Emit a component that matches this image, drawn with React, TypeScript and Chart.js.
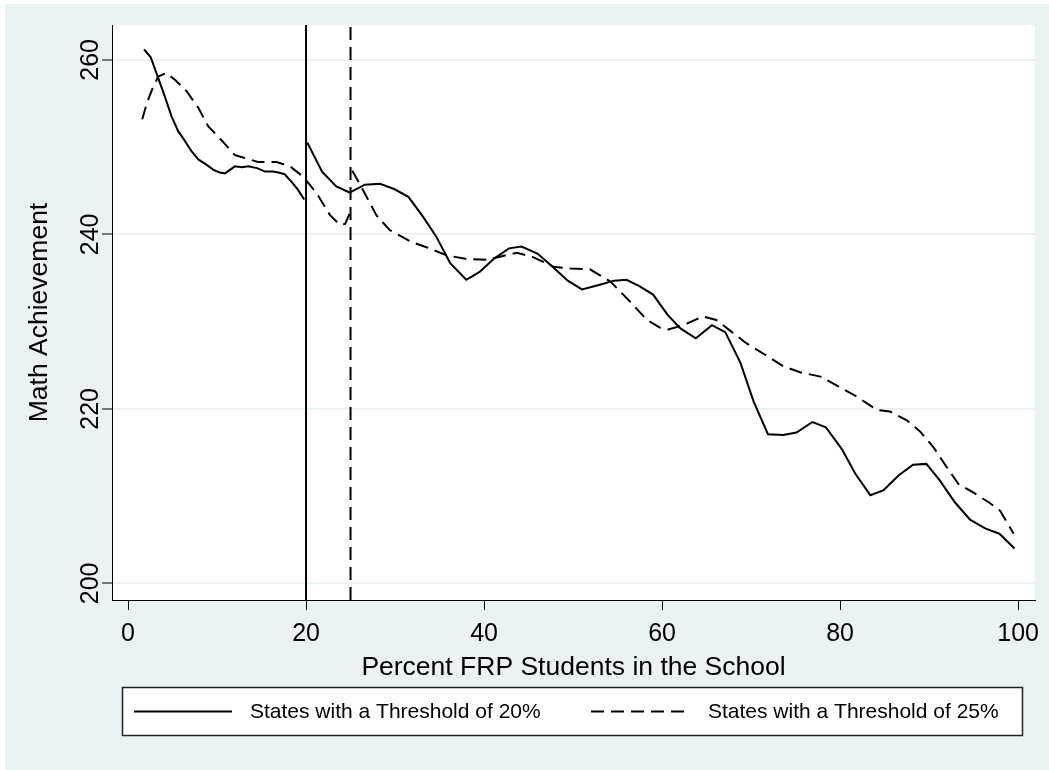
import React, { useEffect, useRef } from "react";
import { Chart, registerables } from "chart.js";

Chart.register(...registerables);

const FONT = '"Liberation Sans", Arial, sans-serif';
const BG = "#EAF2F3";

const X_TICKS = [0, 20, 40, 60, 80, 100];
const Y_TICKS = [200, 220, 240, 260];
const X_MIN = -1.8;
const X_MAX = 101.9;
const Y_MIN = 198.1;
const Y_MAX = 264.0;
const CUTOFFS = [20, 25];
const SERIES_LABELS = ["States with a Threshold of 20%", "States with a Threshold of 25%"];
const X_TITLE = "Percent FRP Students in the School";
const Y_TITLE = "Math Achievement";

// States with a 20% threshold: below and above the cutoff
const T20_BELOW_X = [1.8, 2.55, 4.0, 4.9, 5.65, 6.2, 7.15, 7.9, 8.8, 9.6, 10.3, 10.9, 12.0, 12.8, 13.5, 14.5, 15.4, 16.3, 16.9, 17.6, 18.4, 19.1, 19.8];
const T20_BELOW_Y = [261.2, 260.3, 256.2, 253.5, 251.8, 251.0, 249.5, 248.6, 248.0, 247.4, 247.1, 247.0, 247.8, 247.7, 247.8, 247.6, 247.2, 247.2, 247.1, 246.9, 246.0, 245.1, 244.0];
const T20_ABOVE_X = [20.15, 21.8, 23.4, 24.9, 26.6, 28.3, 29.9, 31.5, 33.1, 34.6, 36.2, 38.0, 39.5, 41.1, 42.8, 44.2, 46.0, 47.7, 49.4, 51.0, 52.9, 54.6, 56.0, 57.4, 59.0, 60.6, 62.1, 63.8, 65.6, 67.1, 68.8, 70.3, 71.9, 73.6, 75.1, 76.9, 78.4, 80.2, 81.7, 83.4, 84.9, 86.6, 88.2, 89.7, 91.2, 92.9, 94.6, 96.3, 97.9, 99.6];
const T20_ABOVE_Y = [250.5, 247.2, 245.5, 244.8, 245.7, 245.8, 245.2, 244.3, 242.1, 239.8, 236.7, 234.8, 235.7, 237.2, 238.4, 238.6, 237.8, 236.3, 234.7, 233.7, 234.2, 234.7, 234.8, 234.1, 233.1, 230.8, 229.2, 228.1, 229.6, 228.8, 225.3, 220.8, 217.1, 217.0, 217.3, 218.5, 217.9, 215.4, 212.6, 210.1, 210.7, 212.4, 213.6, 213.7, 211.8, 209.3, 207.3, 206.3, 205.7, 204.0];

// States with a 25% threshold: below and above the cutoff
const T25_BELOW_X = [1.6, 2.1, 2.7, 3.4, 4.3, 5.3, 6.6, 7.9, 9.0, 10.5, 12.0, 13.3, 14.6, 16.7, 18.2, 19.7, 21.2, 22.7, 23.8, 24.4, 24.9];
const T25_BELOW_Y = [253.2, 255.0, 256.6, 258.1, 258.5, 257.7, 256.4, 254.5, 252.4, 250.8, 249.1, 248.7, 248.3, 248.3, 247.8, 246.6, 244.7, 242.2, 241.1, 241.2, 242.4];
const T25_ABOVE_X = [25.2, 26.4, 27.9, 29.4, 31.7, 33.6, 35.8, 37.9, 40.3, 42.0, 43.7, 45.5, 47.8, 49.7, 51.9, 54.2, 56.4, 58.3, 59.8, 60.7, 62.4, 64.6, 66.1, 67.6, 69.5, 71.6, 73.6, 75.5, 77.8, 79.6, 81.9, 84.1, 85.6, 87.5, 89.0, 90.5, 92.0, 93.3, 95.0, 96.7, 98.0, 99.5];
const T25_ABOVE_Y = [247.3, 245.1, 242.2, 240.5, 239.2, 238.5, 237.6, 237.2, 237.1, 237.5, 237.9, 237.4, 236.3, 236.1, 236.0, 234.6, 232.3, 230.2, 229.3, 229.1, 229.6, 230.6, 230.2, 229.0, 227.5, 226.2, 224.9, 224.2, 223.7, 222.7, 221.4, 219.9, 219.7, 218.7, 217.4, 215.6, 213.3, 211.4, 210.4, 209.3, 208.3, 205.7];

const DASH = [13, 7];

type Pt = { x: number; y: number | null };

function toPoints(xs: number[], ys: number[]): Pt[] {
  return xs.map((x, i) => ({ x, y: ys[i] }));
}

function withGap(a: Pt[], b: Pt[]): Pt[] {
  const gx = (a[a.length - 1].x + b[0].x) / 2;
  return [...a, { x: gx, y: null }, ...b];
}

const backgroundPlugin = {
  id: "stataBackground",
  beforeDraw(chart: any) {
    const { ctx, width, height, chartArea } = chart;
    ctx.save();
    ctx.fillStyle = "#ffffff";
    ctx.fillRect(0, 0, width, height);
    ctx.fillStyle = BG;
    ctx.fillRect(5, 4, width - 5, height - 4);
    ctx.fillStyle = "#ffffff";
    ctx.fillRect(chartArea.left, chartArea.top, chartArea.right - chartArea.left, chartArea.bottom - chartArea.top);
    ctx.restore();
  },
};

const textPlugin = {
  id: "stataText",
  afterDraw(chart: any) {
    const { ctx, chartArea } = chart;
    const xs = chart.scales.x;
    const ys = chart.scales.y;
    ctx.save();
    ctx.fillStyle = "#000000";

    // x tick labels
    ctx.font = `25px ${FONT}`;
    ctx.textAlign = "center";
    ctx.textBaseline = "alphabetic";
    X_TICKS.forEach((v) => {
      ctx.fillText(String(v), xs.getPixelForValue(v), 641);
    });

    // y tick labels (rotated)
    Y_TICKS.forEach((v) => {
      ctx.save();
      ctx.translate(98, ys.getPixelForValue(v));
      ctx.rotate(-Math.PI / 2);
      ctx.textAlign = "center";
      ctx.fillText(String(v), 0, 0);
      ctx.restore();
    });

    // axis titles
    ctx.font = `26.5px ${FONT}`;
    ctx.textAlign = "center";
    ctx.fillText(X_TITLE, (chartArea.left + chartArea.right) / 2, 675);
    ctx.save();
    ctx.translate(47, (chartArea.top + chartArea.bottom) / 2);
    ctx.rotate(-Math.PI / 2);
    ctx.fillText(Y_TITLE, 0, 0);
    ctx.restore();

    // legend
    const bx = 122.5, by = 687.5, bw = 900, bh = 48;
    ctx.fillStyle = "#ffffff";
    ctx.fillRect(bx, by, bw, bh);
    ctx.strokeStyle = "#222222";
    ctx.lineWidth = 1.5;
    ctx.strokeRect(bx, by, bw, bh);
    const ly = 711.5;
    const items = [
      { x0: 134, x1: 232, tx: 250 },
      { x0: 591, x1: 690, tx: 708 },
    ];
    chart.data.datasets.slice(0, 2).forEach((ds: any, i: number) => {
      const it = items[i];
      ctx.strokeStyle = ds.borderColor;
      ctx.lineWidth = 2;
      ctx.setLineDash(ds.borderDash || []);
      ctx.beginPath();
      ctx.moveTo(it.x0, ly);
      ctx.lineTo(it.x1, ly);
      ctx.stroke();
      ctx.setLineDash([]);
      ctx.fillStyle = "#000000";
      ctx.font = `21px ${FONT}`;
      ctx.textAlign = "left";
      ctx.textBaseline = "middle";
      ctx.fillText(ds.label, it.tx, ly + 1);
    });
    ctx.restore();
  },
};

export default function App() {
  const ref = useRef<HTMLCanvasElement | null>(null);

  useEffect(() => {
    if (!ref.current) return;
    const t20 = withGap(toPoints(T20_BELOW_X, T20_BELOW_Y), toPoints(T20_ABOVE_X, T20_ABOVE_Y));
    const t25 = withGap(toPoints(T25_BELOW_X, T25_BELOW_Y), toPoints(T25_ABOVE_X, T25_ABOVE_Y));
    const cutLine = (c: number) => [
      { x: c, y: Y_MIN },
      { x: c, y: Y_MAX },
    ];
    const chart = new Chart(ref.current, {
      type: "line",
      data: {
        datasets: [
          {
            label: SERIES_LABELS[0],
            data: t20 as any,
            borderColor: "#000000",
            borderWidth: 2,
            pointRadius: 0,
            tension: 0,
            spanGaps: false,
          },
          {
            label: SERIES_LABELS[1],
            data: t25 as any,
            borderColor: "#000000",
            borderWidth: 2,
            borderDash: DASH,
            pointRadius: 0,
            tension: 0,
            spanGaps: false,
          },
          {
            label: "cutoff 20",
            data: cutLine(CUTOFFS[0]) as any,
            borderColor: "#000000",
            borderWidth: 2,
            pointRadius: 0,
          },
          {
            label: "cutoff 25",
            data: cutLine(CUTOFFS[1]) as any,
            borderColor: "#000000",
            borderWidth: 2,
            borderDash: DASH,
            pointRadius: 0,
          },
        ],
      },
      options: {
        responsive: false,
        animation: false,
        devicePixelRatio: 1,
        parsing: true,
        layout: { padding: { left: 0, top: 25, right: 14, bottom: 0 } },
        plugins: {
          legend: { display: false },
          tooltip: { enabled: false },
        },
        scales: {
          x: {
            type: "linear",
            min: X_MIN,
            max: X_MAX,
            afterBuildTicks: (s: any) => {
              s.ticks = X_TICKS.map((v) => ({ value: v }));
            },
            afterFit: (s: any) => {
              s.height = 170;
            },
            ticks: { display: false },
            grid: {
              drawOnChartArea: false,
              drawTicks: true,
              tickLength: 10,
              tickColor: "#000000",
              tickWidth: 1,
            },
            border: { display: true, color: "#000000", width: 1 },
          },
          y: {
            type: "linear",
            min: Y_MIN,
            max: Y_MAX,
            afterBuildTicks: (s: any) => {
              s.ticks = Y_TICKS.map((v) => ({ value: v }));
            },
            afterFit: (s: any) => {
              s.width = 112;
            },
            ticks: { display: false },
            grid: {
              color: BG,
              lineWidth: 2,
              drawTicks: true,
              tickLength: 10,
              tickColor: "#000000",
              tickWidth: 1,
            },
            border: { display: true, color: "#000000", width: 1 },
          },
        },
      },
      plugins: [backgroundPlugin, textPlugin],
    });
    return () => chart.destroy();
  }, []);

  return (
    <div style={{ position: "absolute", left: 0, top: 0, width: 1049, height: 770 }}>
      <canvas ref={ref} width={1049} height={770} style={{ display: "block", width: 1049, height: 770 }} />
    </div>
  );
}
